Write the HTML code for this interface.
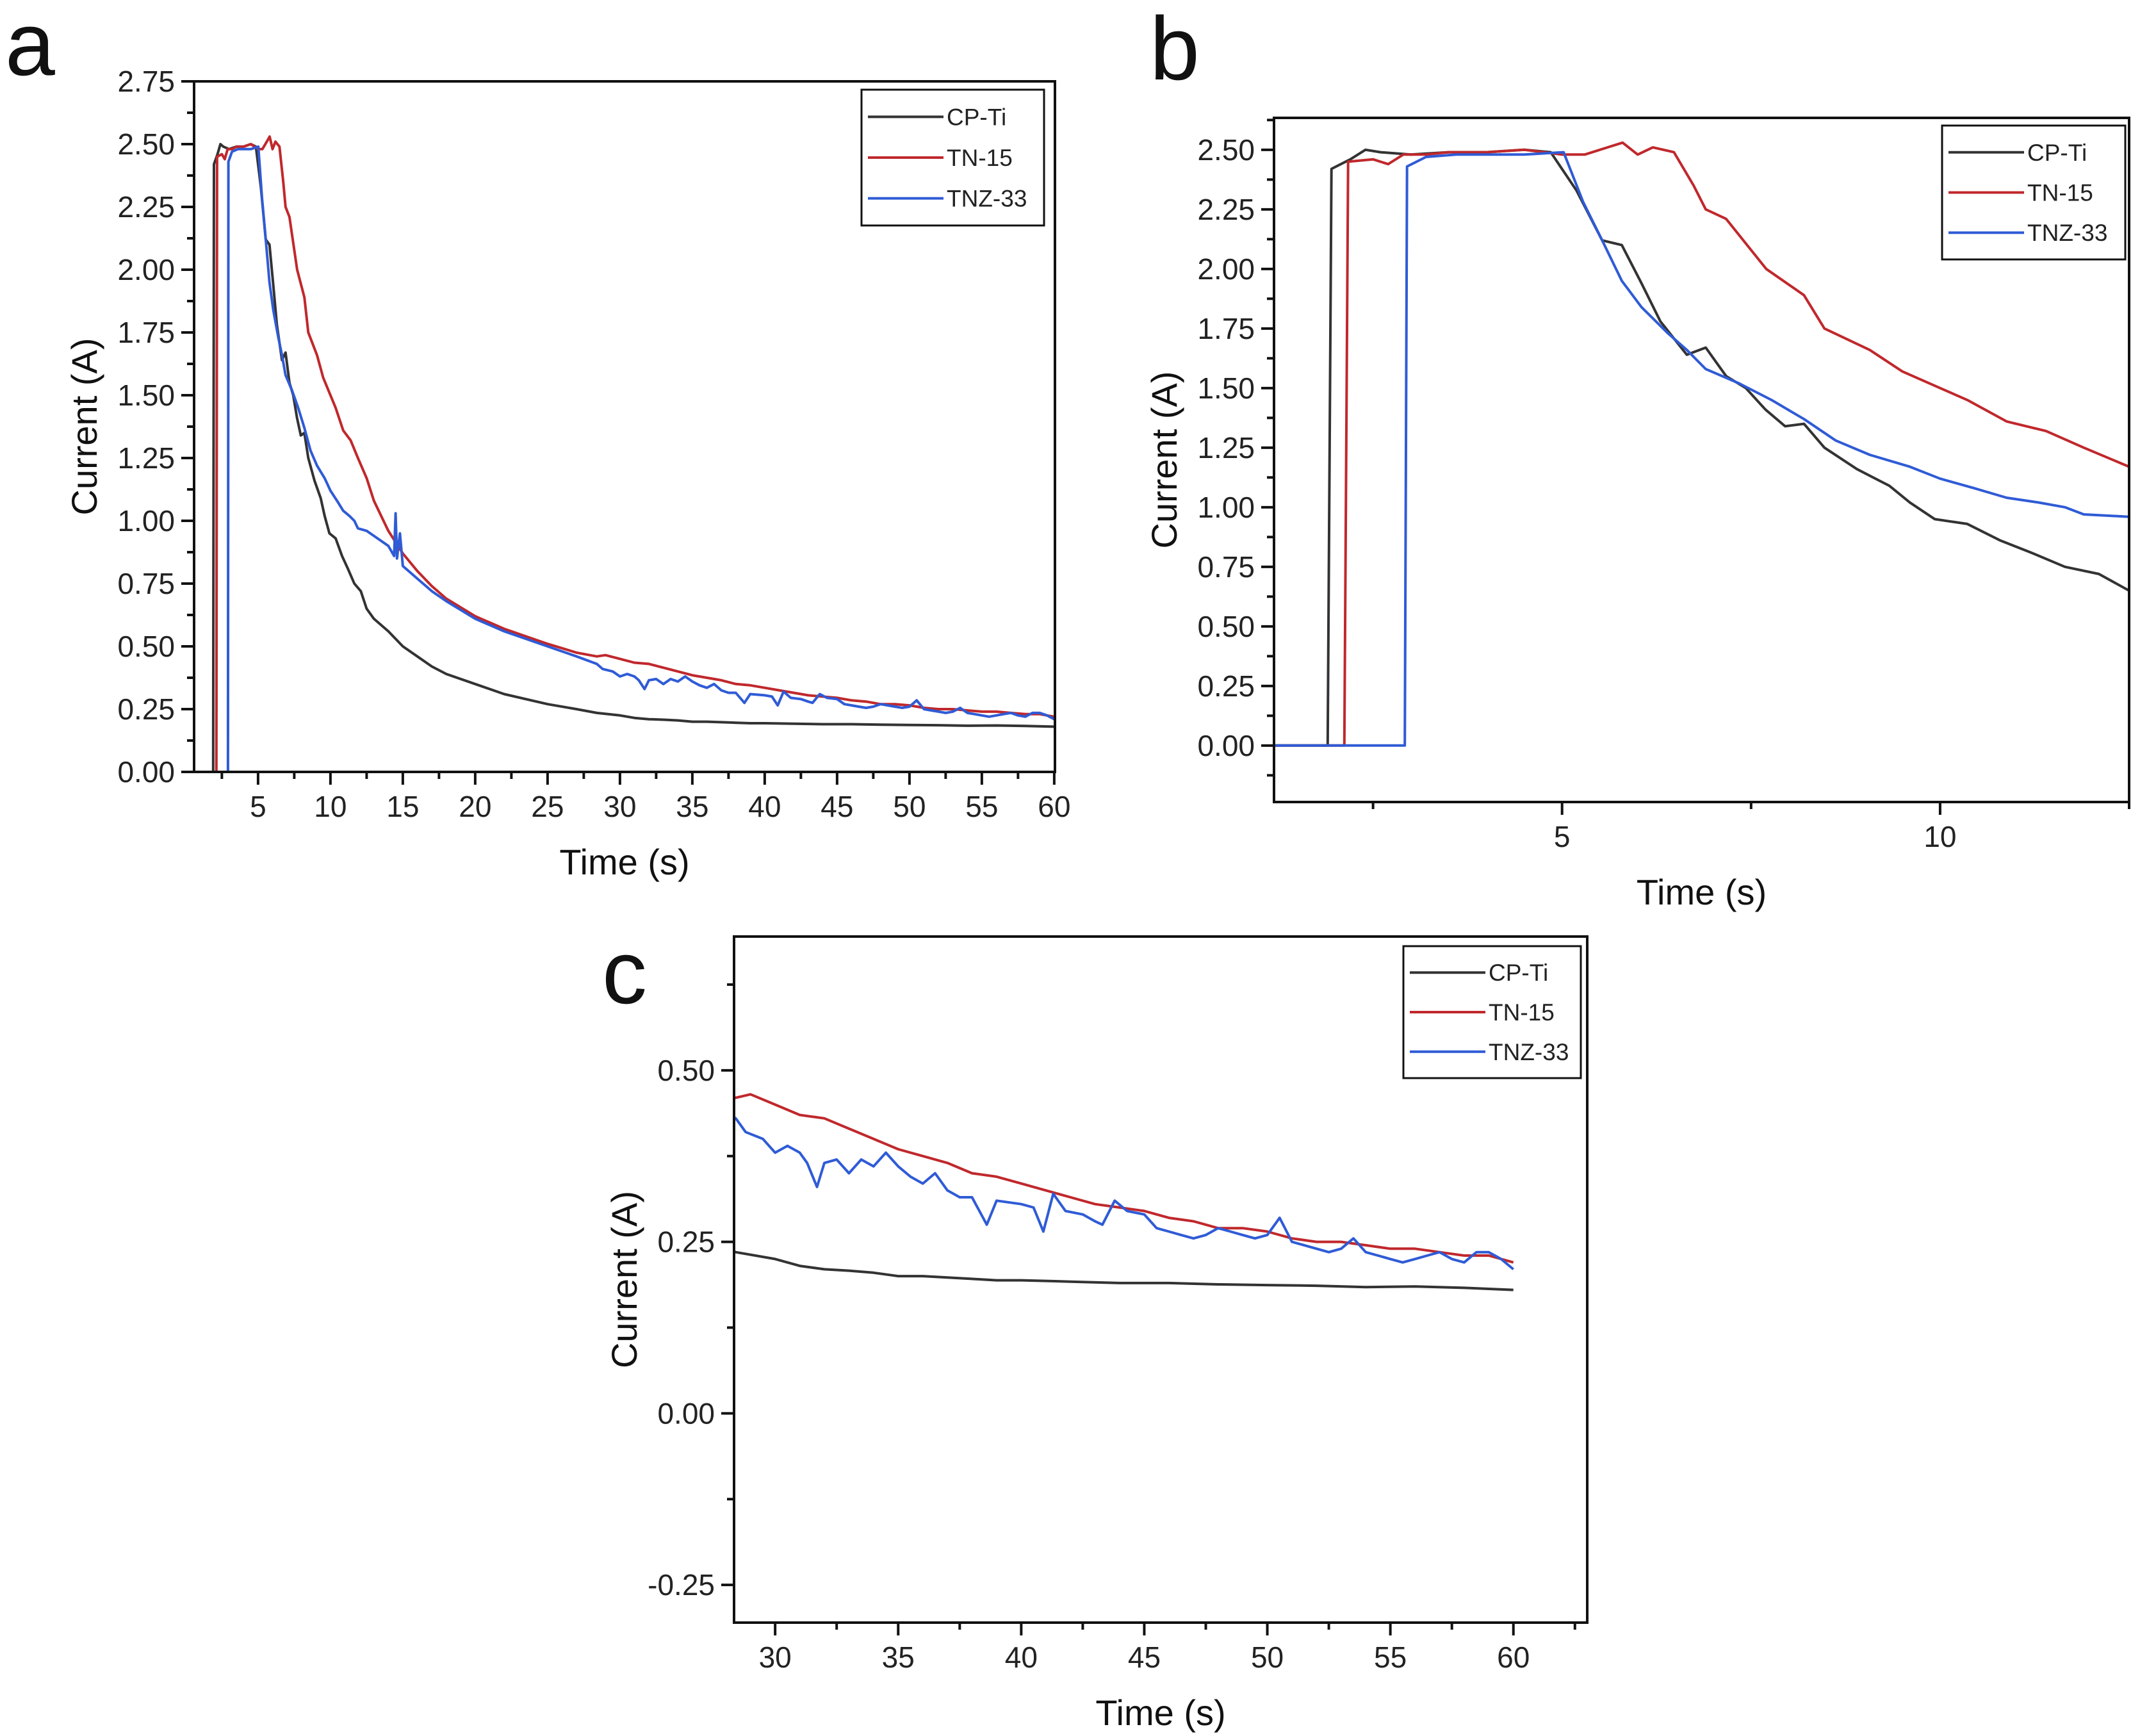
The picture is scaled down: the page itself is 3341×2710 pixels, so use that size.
<!DOCTYPE html>
<html><head><meta charset="utf-8"><style>
html,body{margin:0;padding:0;background:#fff;}
svg{display:block;font-family:"Liberation Sans",Arial,sans-serif;}
</style></head><body>
<svg id="fig" width="3341" height="2710" viewBox="0 0 3341 2710" xmlns="http://www.w3.org/2000/svg">
<rect width="3341" height="2710" fill="#fff"/>
<text x="8" y="117" font-size="140" fill="#111">a</text>
<text x="1795" y="124" font-size="140" fill="#111">b</text>
<text x="940" y="1566" font-size="140" fill="#111">c</text>
</svg>
<script>
// ---- data (time in s, current in A) ----
const cpTiT = [0.6,1.9,1.95,2.2,2.4,2.6,3,3.5,4,4.5,4.85,5.19,5.53,5.79,6.05,6.3,6.65,6.9,7.17,7.43,7.69,7.95,8.2,8.47,8.9,9.33,9.6,9.93,10.36,10.8,11.2,11.65,12.1,12.5,13,14,15,16,17,18,20,22,25,27,28.4,30,31,32,33,34,35,36,37,38,39,40,42,44,46,48,50,52,54,56,58,60];
const cpTiI = [0,0,2.42,2.46,2.5,2.49,2.48,2.49,2.49,2.5,2.49,2.33,2.12,2.1,1.94,1.78,1.64,1.67,1.55,1.5,1.41,1.34,1.35,1.25,1.16,1.09,1.02,0.95,0.93,0.86,0.81,0.75,0.72,0.65,0.61,0.56,0.5,0.46,0.42,0.39,0.35,0.31,0.27,0.25,0.235,0.225,0.215,0.21,0.208,0.205,0.2,0.2,0.198,0.196,0.194,0.194,0.192,0.19,0.19,0.188,0.187,0.186,0.184,0.185,0.183,0.18];
const tn15T = [0.6,2.12,2.17,2.5,2.7,2.9,3.2,3.5,4,4.5,5,5.3,5.6,5.8,6.0,6.2,6.48,6.74,6.9,7.17,7.7,8.2,8.47,9.07,9.5,10,10.36,10.88,11.4,11.9,12.5,13,14,15,16,17,18,20,22,25,27,28.4,29,30,31,32,33,34,35,36,37,38,39,40,41,42,43,44,45,46,47,48,49,50,51,52,53,54,55,56,57,58,59,60];
const tn15I = [0,0,2.45,2.46,2.44,2.48,2.48,2.49,2.49,2.5,2.48,2.48,2.51,2.53,2.48,2.51,2.49,2.35,2.25,2.21,2.0,1.89,1.75,1.66,1.57,1.5,1.45,1.36,1.32,1.25,1.17,1.08,0.96,0.87,0.8,0.74,0.69,0.62,0.57,0.51,0.475,0.46,0.465,0.45,0.435,0.43,0.415,0.4,0.385,0.375,0.365,0.35,0.345,0.335,0.325,0.315,0.305,0.3,0.295,0.285,0.28,0.27,0.27,0.265,0.255,0.25,0.25,0.245,0.24,0.24,0.235,0.23,0.23,0.22];
const tnz33T = [0.6,2.92,2.95,3.2,3.6,4,4.5,5.02,5.28,5.53,5.79,6.05,6.4,6.65,6.9,7.34,7.77,8.2,8.62,9.07,9.6,10,10.45,10.88,11.3,11.65,11.9,12.5,13,14,14.4,14.5,14.6,14.8,15,16,17,18,20,22,25,27,28.4,28.8,29.5,30,30.5,31,31.3,31.7,32,32.5,33,33.5,34,34.5,35,35.5,36,36.5,37,37.5,38,38.6,39,40,40.5,40.9,41.3,41.8,42.5,43,43.3,43.8,44.3,45,45.5,46,46.5,47,47.5,48,48.5,49,49.5,50,50.5,51,51.5,52,52.5,53,53.5,54,54.5,55,55.5,56,56.5,57,57.5,58,58.5,59,59.5,60];
const tnz33I = [0,0,2.43,2.47,2.48,2.48,2.48,2.49,2.28,2.12,1.95,1.84,1.73,1.66,1.58,1.52,1.45,1.37,1.28,1.22,1.17,1.12,1.08,1.04,1.02,1.0,0.97,0.96,0.94,0.9,0.86,1.03,0.85,0.95,0.82,0.77,0.72,0.68,0.61,0.56,0.5,0.46,0.43,0.41,0.4,0.38,0.39,0.38,0.365,0.33,0.365,0.37,0.35,0.37,0.36,0.38,0.36,0.345,0.335,0.35,0.325,0.315,0.315,0.275,0.31,0.305,0.3,0.265,0.32,0.295,0.29,0.28,0.275,0.31,0.295,0.29,0.27,0.265,0.26,0.255,0.26,0.27,0.265,0.26,0.255,0.26,0.285,0.25,0.245,0.24,0.235,0.24,0.255,0.235,0.23,0.225,0.22,0.225,0.23,0.235,0.225,0.22,0.235,0.235,0.225,0.21];
const seriesNames = ["CP-Ti","TN-15","TNZ-33"];
const xTicksA = [5,10,15,20,25,30,35,40,45,50,55,60];
const yTicksA = [0,0.25,0.5,0.75,1,1.25,1.5,1.75,2,2.25,2.5,2.75];
const xTicksB = [5,10];
const yTicksB = [0,0.25,0.5,0.75,1,1.25,1.5,1.75,2,2.25,2.5];
const xTicksC = [30,35,40,45,50,55,60];
const yTicksC = [-0.25,0,0.25,0.5];

const colors = ["#333333","#c0282c","#2f5bd6"];
const NS = "http://www.w3.org/2000/svg";
const svg = document.getElementById("fig");
function mk(tag, attrs, parent){const e=document.createElementNS(NS,tag);for(const k in attrs)e.setAttribute(k,attrs[k]);(parent||svg).appendChild(e);return e;}

const panels = [
 {id:"a",L:303,R:1647,T:127,B:1205,x0:0.58,x1:60.05,y0:0,y1:2.75,xt:xTicksA,yt:yTicksA,xMinorStep:2.5,yMinorStep:0.125,leg:{x:1345,y:140,w:285,h:212}},
 {id:"b",L:1989,R:3324,T:184,B:1252,x0:1.19,x1:12.5,y0:-0.237,y1:2.634,xt:xTicksB,yt:yTicksB,xMinorStep:2.5,yMinorStep:0.125,leg:{x:3032,y:196,w:286,h:209}},
 {id:"c",L:1146,R:2478,T:1462,B:2533,x0:28.33,x1:63.0,y0:-0.305,y1:0.695,xt:xTicksC,yt:yTicksC,xMinorStep:2.5,yMinorStep:0.125,leg:{x:2191,y:1477,w:277,h:206}}
];
const allT=[cpTiT,tn15T,tnz33T], allI=[cpTiI,tn15I,tnz33I];

panels.forEach(p=>{
  const sx=v=>p.L+(v-p.x0)/(p.x1-p.x0)*(p.R-p.L);
  const sy=v=>p.B-(v-p.y0)/(p.y1-p.y0)*(p.B-p.T);
  const g=mk("g",{});
  
  
  const cp=mk("clipPath",{id:"clip-"+p.id},g);
  mk("rect",{x:p.L,y:p.T,width:p.R-p.L,height:p.B-p.T},cp);
  for(let s=0;s<3;s++){
    const d=allT[s].map((t,i)=>(i?"L":"M")+sx(t).toFixed(1)+","+sy(allI[s][i]).toFixed(1)).join(" ");
    const path=mk("path",{d:d,fill:"none",stroke:colors[s],"stroke-width":4,"stroke-linejoin":"round","clip-path":"url(#clip-"+p.id+")"},g);
    
    
  }
  const fr=mk("rect",{x:p.L,y:p.T,width:p.R-p.L,height:p.B-p.T,fill:"none",stroke:"#111","stroke-width":4},g);
  
  
  const xa=mk("g",{},g);
  
  
  const xs=Math.ceil(p.x0/p.xMinorStep)*p.xMinorStep;
  for(let v=xs;v<=p.x1+1e-6;v+=p.xMinorStep){
    const major=p.xt.some(t=>Math.abs(t-v)<1e-6);
    mk("line",{x1:sx(v),x2:sx(v),y1:p.B,y2:p.B+(major?20:11),stroke:"#111","stroke-width":4},xa);
  }
  p.xt.forEach(v=>{
    const t=mk("text",{x:sx(v),y:p.B+70,"font-size":46,"text-anchor":"middle",fill:"#222"},xa);
    t.textContent=String(v);
    
    
  });
  const ya=mk("g",{},g);
  
  
  const ys=Math.ceil(p.y0/p.yMinorStep)*p.yMinorStep;
  for(let v=ys;v<=p.y1+1e-6;v+=p.yMinorStep){
    const major=Math.abs(Math.round(v/0.25)*0.25-v)<1e-6;
    mk("line",{x1:p.L,x2:p.L-(major?20:11),y1:sy(v),y2:sy(v),stroke:"#111","stroke-width":4},ya);
  }
  p.yt.forEach(v=>{
    const t=mk("text",{x:p.L-30,y:sy(v)+16,"font-size":46,"text-anchor":"end",fill:"#222"},ya);
    t.textContent=v.toFixed(2);
    
    
  });
  const xt=mk("text",{x:(p.L+p.R)/2,y:p.B+160,"font-size":56,"text-anchor":"middle",fill:"#111"},g);
  xt.textContent="Time (s)";
  
  
  const cy=(p.T+p.B)/2, cx=p.L-172;
  const yt=mk("text",{x:cx,y:cy+20,"font-size":56,"text-anchor":"middle",fill:"#111",transform:"rotate(-90 "+cx+" "+cy+")"},g);
  yt.textContent="Current (A)";
  
  
  const lg=mk("g",{},g);
  
  
  const L=p.leg;
  mk("rect",{x:L.x,y:L.y,width:L.w,height:L.h,fill:"#fff",stroke:"#111","stroke-width":3},lg);
  for(let s=0;s<3;s++){
    const yy=L.y+L.h*(0.2+0.3*s);
    const e=mk("g",{},lg);
    
    
    mk("line",{x1:L.x+10,x2:L.x+128,y1:yy,y2:yy,stroke:colors[s],"stroke-width":4},e);
    const t=mk("text",{x:L.x+133,y:yy+13,"font-size":37,fill:"#222"},e);
    t.textContent=seriesNames[s];
  }
});
</script>
</body></html>
